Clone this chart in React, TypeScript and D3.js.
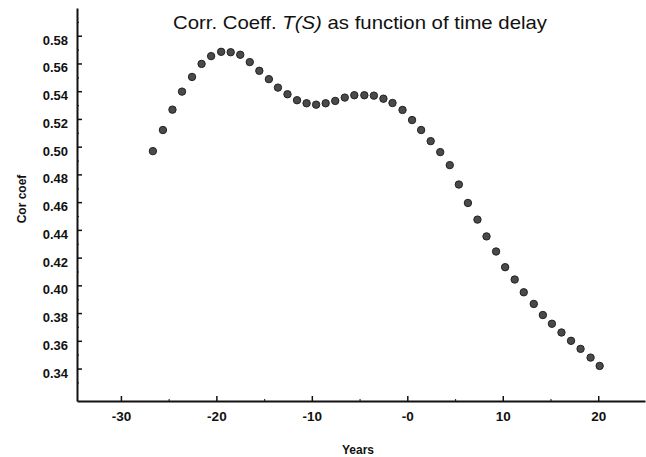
import { useEffect, useRef } from "react";
import { axisBottom, axisLeft, scaleLinear, select } from "d3";

// time delay (years) and correlation coefficient
const years = [
  -26.65, -25.6, -24.6, -23.6, -22.55, -21.55, -20.55, -19.5, -18.5, -17.5,
  -16.5, -15.5, -14.5, -13.55, -12.55, -11.55, -10.55, -9.55, -8.55, -7.55,
  -6.55, -5.55, -4.5, -3.5, -2.5, -1.55, -0.5, 0.5, 1.45, 2.45, 3.45, 4.45,
  5.4, 6.35, 7.35, 8.3, 9.3, 10.25, 11.25, 12.2, 13.25, 14.2, 15.15, 16.15,
  17.15, 18.15, 19.2, 20.15,
];
const corr = [
  0.4968, 0.512, 0.5267, 0.5397, 0.5503, 0.5597, 0.5653, 0.5684, 0.5681,
  0.5663, 0.561, 0.5547, 0.5487, 0.5426, 0.5378, 0.5335, 0.5313, 0.5303,
  0.5313, 0.533, 0.5354, 0.5371, 0.5371, 0.5368, 0.5346, 0.5315, 0.5265,
  0.5192, 0.512, 0.504, 0.4961, 0.4867, 0.4727, 0.4594, 0.4474, 0.4353,
  0.4244, 0.4131, 0.4042, 0.395, 0.3866, 0.3786, 0.3723, 0.366, 0.36,
  0.3542, 0.3479, 0.3419,
];

const xTicks = [-30, -20, -10, 0, 10, 20];
const xTickLabels = ["-30", "-20", "-10", "-0", "10", "20"];
const xMinorTicks = [-25, -15, -5, 5, 15];
const yTicks = [0.34, 0.36, 0.38, 0.4, 0.42, 0.44, 0.46, 0.48, 0.5, 0.52, 0.54, 0.56, 0.58];
const yMinorTicks = [0.33, 0.35, 0.37, 0.39, 0.41, 0.43, 0.45, 0.47, 0.49, 0.51, 0.53, 0.55, 0.57, 0.59];

const width = 646;
const height = 457;
const left = 77;
const right = 645;
const top = 8;
const bottom = 401;

const font = "'Liberation Sans', Arial, sans-serif";

function App() {
  const xRef = useRef<SVGGElement>(null);
  const xMinorRef = useRef<SVGGElement>(null);
  const yRef = useRef<SVGGElement>(null);
  const yMinorRef = useRef<SVGGElement>(null);

  const x = scaleLinear().domain([-34.6, 24.9]).range([left, right]);
  const y = scaleLinear().domain([0.3166, 0.6]).range([bottom, top]);

  useEffect(() => {
    const xAxis = axisBottom(x)
      .tickValues(xTicks)
      .tickFormat((d, i) => xTickLabels[i])
      .tickSizeInner(-5)
      .tickSizeOuter(0)
      .tickPadding(10);
    const gx = select(xRef.current!).call(xAxis);
    gx.select(".domain").attr("stroke", "#111").attr("stroke-width", 2);
    gx.selectAll(".tick line").attr("stroke", "#111").attr("stroke-width", 1.5);
    gx.selectAll(".tick text")
      .attr("fill", "#111")
      .attr("font-size", 13.5)
      .attr("font-weight", "bold")
      .attr("font-family", font);

    const xMinor = axisBottom(x)
      .tickValues(xMinorTicks)
      .tickFormat(() => "")
      .tickSizeInner(-2)
      .tickSizeOuter(0);
    const gxm = select(xMinorRef.current!).call(xMinor);
    gxm.select(".domain").remove();
    gxm.selectAll(".tick line").attr("stroke", "#333").attr("stroke-width", 1.2);

    const yAxis = axisLeft(y)
      .tickValues(yTicks)
      .tickFormat((d) => (d as number).toFixed(2))
      .tickSizeInner(-5)
      .tickSizeOuter(0)
      .tickPadding(9);
    const gy = select(yRef.current!).call(yAxis);
    gy.select(".domain").attr("stroke", "#111").attr("stroke-width", 2);
    gy.selectAll(".tick line").attr("stroke", "#111").attr("stroke-width", 1.5);
    gy.selectAll(".tick text")
      .attr("fill", "#111")
      .attr("font-size", 13)
      .attr("font-weight", "bold")
      .attr("font-family", font)
      .attr("dy", "0.65em");

    const yMinor = axisLeft(y)
      .tickValues(yMinorTicks)
      .tickFormat(() => "")
      .tickSizeInner(-2)
      .tickSizeOuter(0);
    const gym = select(yMinorRef.current!).call(yMinor);
    gym.select(".domain").remove();
    gym.selectAll(".tick line").attr("stroke", "#333").attr("stroke-width", 1.2);
  }, []);

  return (
    <svg
      width={width}
      height={height}
      style={{ position: "absolute", left: 0, top: 0, background: "#fff" }}
    >
      <text
        x={360}
        y={29}
        textAnchor="middle"
        fontFamily={font}
        fontSize={18.5}
        fill="#111"
        textLength={374}
        lengthAdjust="spacingAndGlyphs"
      >
        Corr. Coeff. <tspan fontStyle="italic">T(S)</tspan> as function of time delay
      </text>

      <g ref={yMinorRef} transform={`translate(${left},0)`} />
      <g ref={xMinorRef} transform={`translate(0,${bottom})`} />
      <g ref={yRef} transform={`translate(${left},0)`} />
      <g ref={xRef} transform={`translate(0,${bottom})`} />

      {years.map((yr, i) => (
        <circle
          key={i}
          cx={x(yr)}
          cy={y(corr[i])}
          r={3.7}
          fill="#4a4a4a"
          stroke="#222"
          strokeWidth={1}
        />
      ))}

      <text
        transform="translate(26,199) rotate(-90)"
        textAnchor="middle"
        fontFamily={font}
        fontSize={12}
        fontWeight="bold"
        fill="#111"
      >
        Cor coef
      </text>
      <text
        x={358}
        y={454}
        textAnchor="middle"
        fontFamily={font}
        fontSize={12}
        fontWeight="bold"
        fill="#111"
      >
        Years
      </text>
    </svg>
  );
}

export default App;
